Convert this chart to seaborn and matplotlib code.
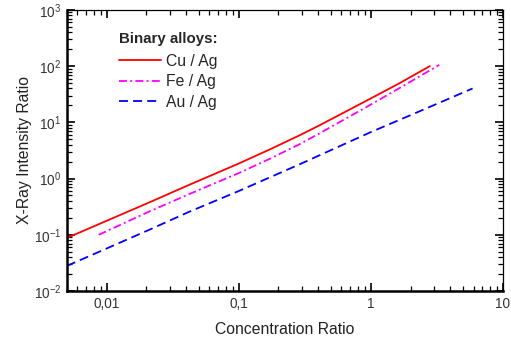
import numpy as np
import pandas as pd
import matplotlib
matplotlib.use("Agg")
import matplotlib.pyplot as plt
import matplotlib.ticker as mticker
import seaborn as sns

# ---- data ----
cu_x = [0.005, 0.0212, 0.0425, 0.1, 0.172, 0.29, 0.411, 1.0, 1.66, 2.8]
cu_y = [0.088, 0.38, 0.78, 1.85, 3.3, 5.9, 8.9, 26.6, 50, 100]
fe_x = [0.0087, 0.0212, 0.0425, 0.1, 0.172, 0.29, 0.411, 1.0, 1.66, 3.3]
fe_y = [0.1, 0.262, 0.534, 1.25, 2.25, 4.1, 6.4, 20.7, 41, 105]
au_x = [0.005, 0.0212, 0.0425, 0.1, 0.29, 1.0, 1.97, 5.9]
au_y = [0.028, 0.124, 0.259, 0.6, 1.8, 6.7, 13.2, 40]
series_names = ["Cu / Ag", "Fe / Ag", "Au / Ag"]
x_tick_vals = [0.01, 0.1, 1, 10]
x_tick_labels = ["0,01", "0,1", "1", "10"]

frames = []
for name, xs, ys in zip(series_names, [cu_x, fe_x, au_x], [cu_y, fe_y, au_y]):
    frames.append(pd.DataFrame({"conc": xs, "ratio": ys, "alloy": name}))
df = pd.concat(frames, ignore_index=True)

sns.set_theme(style="white")
plt.rcParams["font.family"] = ["Liberation Sans", "DejaVu Sans"]
plt.rcParams["mathtext.fontset"] = "custom"
plt.rcParams["mathtext.rm"] = "Liberation Sans"
plt.rcParams["mathtext.it"] = "Liberation Sans:italic"

fig = plt.figure(figsize=(5.11, 3.40), dpi=100)
ax = fig.add_axes([0.131, 0.144, 0.853, 0.827])

palette = {"Cu / Ag": "#ff0000", "Fe / Ag": "#ff00ff", "Au / Ag": "#0000ff"}
dashes = {"Cu / Ag": "", "Fe / Ag": (4.4, 1.8, 1.1, 1.8), "Au / Ag": (5.0, 2.8)}
sns.lineplot(data=df, x="conc", y="ratio", hue="alloy", style="alloy",
             palette=palette, dashes=dashes, hue_order=series_names,
             style_order=series_names, linewidth=1.3, ax=ax, sort=False,
             estimator=None)

ax.set_xscale("log")
ax.set_yscale("log")
ax.set_xlim(0.005, 10)
ax.set_ylim(1e-2, 1e3)

ax.xaxis.set_major_locator(mticker.FixedLocator(x_tick_vals))
ax.xaxis.set_major_formatter(mticker.FixedFormatter(x_tick_labels))
ax.xaxis.set_minor_locator(mticker.LogLocator(base=10, subs=np.arange(2, 10), numticks=20))
ax.xaxis.set_minor_formatter(mticker.NullFormatter())
ax.yaxis.set_major_locator(mticker.LogLocator(base=10, numticks=10))
ax.yaxis.set_minor_locator(mticker.LogLocator(base=10, subs=np.arange(2, 10), numticks=20))
ax.yaxis.set_minor_formatter(mticker.NullFormatter())

ax.tick_params(which="both", direction="in", top=True, right=True,
               bottom=True, left=True, colors="black", labelsize=9.8,
               labelcolor="#333333")
ax.tick_params(which="major", length=6, width=1.2, pad=4)
ax.tick_params(which="minor", length=3.5, width=0.9)

for side in ["top", "right"]:
    ax.spines[side].set_linewidth(0.9)
    ax.spines[side].set_color("black")
for side in ["left", "bottom"]:
    ax.spines[side].set_linewidth(1.8)
    ax.spines[side].set_color("black")

ax.set_xlabel("Concentration Ratio", fontsize=11.3, color="#222222", labelpad=8)
ax.set_ylabel("X-Ray Intensity Ratio", fontsize=11.3, color="#222222", labelpad=1)

leg = ax.legend(title="Binary alloys:", loc="upper left",
                bbox_to_anchor=(0.105, 0.945), frameon=False, fontsize=11.3,
                title_fontsize=10.8, handlelength=2.7, handletextpad=0.3,
                labelspacing=0.35, borderaxespad=0)
leg.get_title().set_fontweight("bold")
leg._legend_box.align = "left"
leg._legend_box.sep = 6

fig.savefig("out.png", dpi=100)
